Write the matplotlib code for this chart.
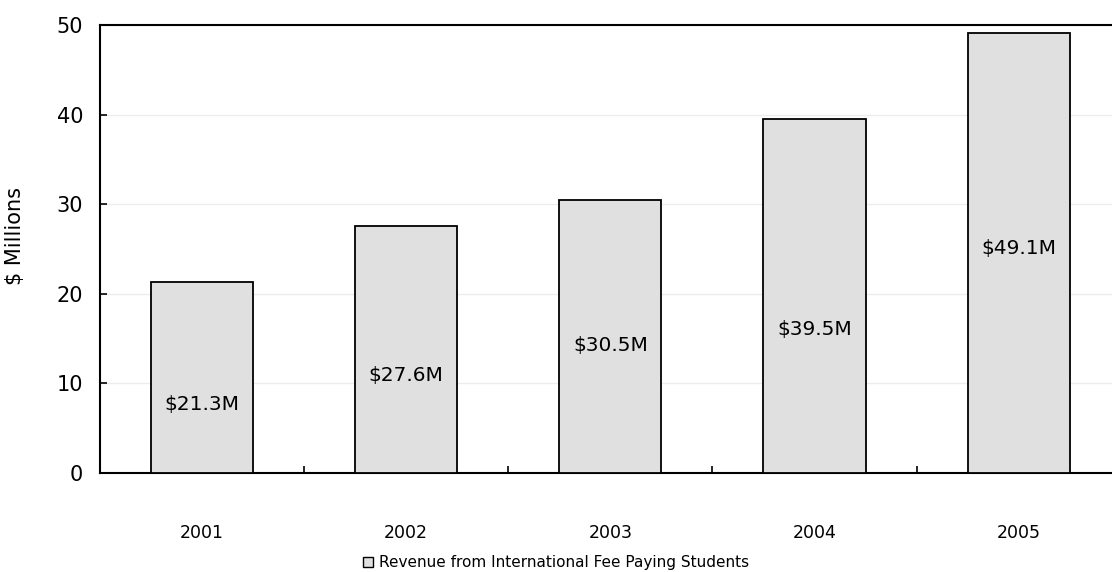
import numpy as np
import matplotlib.pyplot as plt
import matplotlib.patches as mpa

years = ['2001', '2002', '2003', '2004', '2005']
revenue = [21.3, 27.6, 30.5, 39.5, 49.1]
labels = ['$21.3M', '$27.6M', '$30.5M', '$39.5M', '$49.1M']
label_y = [7.6, 10.9, 14.2, 16.0, 25.1]

plt.rcParams['font.family'] = ['DejaVu Sans']
fig = plt.figure(figsize=(11.12, 5.72), dpi=100)
ax = fig.add_axes([0.0899, 0.173, 0.918, 0.783])

x = np.arange(len(years))
ax.bar(x, revenue, width=0.5, color='#e0e0e0', edgecolor='black', linewidth=1.3, zorder=3)
for i in range(len(years)):
	ax.text(x[i], label_y[i], labels[i], ha='center', va='center', fontsize=14.5, zorder=4)

ax.set_xlim(-0.5, len(years) - 0.5)
ax.set_ylim(0, 50)
ax.set_yticks([0, 10, 20, 30, 40, 50])
ax.yaxis.grid(True, color='#ececec', linewidth=1, zorder=0)
ax.set_xticks(x)
ax.set_xticklabels(years)
ax.set_xticks(x[:-1] + 0.5, minor=True)
ax.tick_params(axis='x', which='major', length=0, pad=37, labelsize=12.5)
ax.tick_params(axis='x', which='minor', direction='in', length=5, width=1.2)
ax.tick_params(axis='y', direction='in', length=5, width=1.2, pad=12, labelsize=15)
ax.set_ylabel('$ Millions', fontsize=15)
ax.yaxis.set_label_coords(-0.073, 0.53)

for s in ['left', 'top', 'bottom']:
	ax.spines[s].set_linewidth(1.5)
ax.spines['right'].set_visible(False)

box = mpa.Patch(facecolor='#e0e0e0', edgecolor='black', label='Revenue from International Fee Paying Students')
fig.legend(handles=[box], loc='center', bbox_to_anchor=(0.5, 0.016), frameon=False,
	fontsize=11, handlelength=0.7, handleheight=0.7, handletextpad=0.4)

fig.savefig('out.png', dpi=100)
